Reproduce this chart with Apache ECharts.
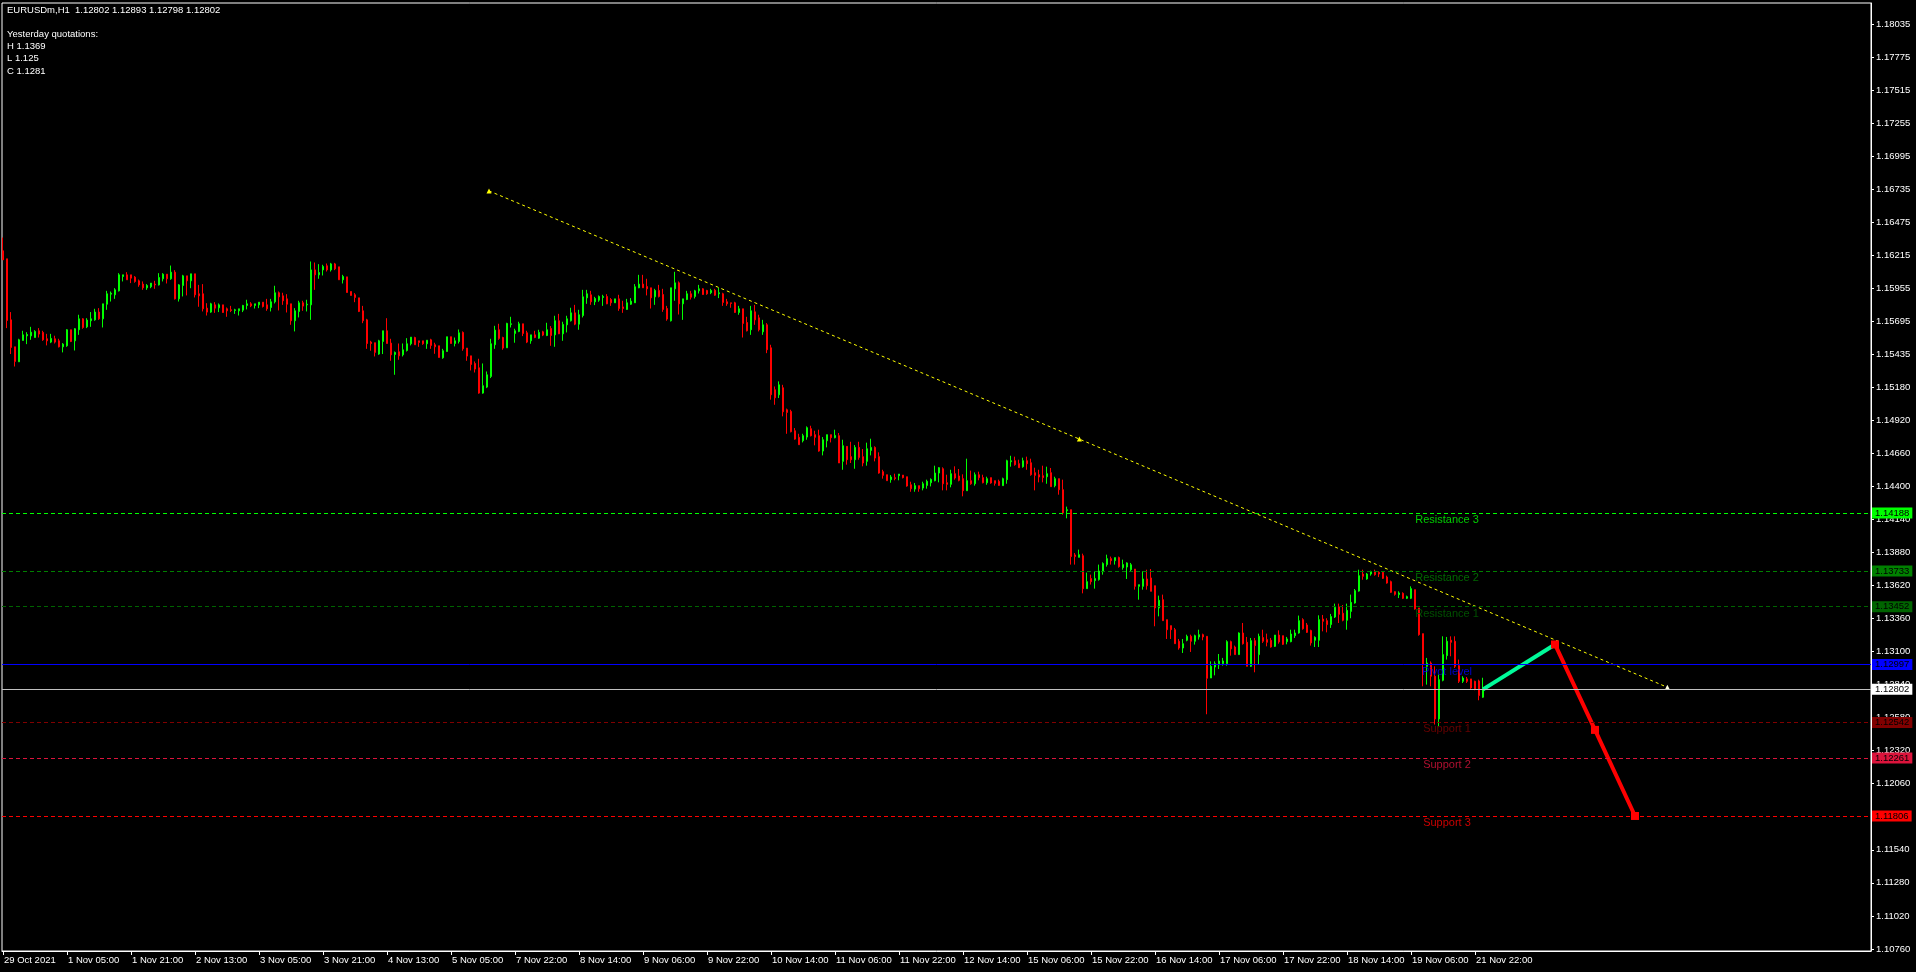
<!DOCTYPE html>
<html><head><meta charset="utf-8">
<script src="https://cdn.jsdelivr.net/npm/echarts@6/dist/echarts.min.js"></script>
<style>html,body{margin:0;padding:0;background:#000;overflow:hidden}#c{width:1916px;height:972px}</style>
</head><body><div id="c"></div>
<script>
// ---------- DATA ----------
const headerLines = ['EURUSDm,H1  1.12802 1.12893 1.12798 1.12802', '', 'Yesterday quotations:', 'H 1.1369', 'L 1.125', 'C 1.1281'];
const timeLabels = ['29 Oct 2021','1 Nov 05:00','1 Nov 21:00','2 Nov 13:00','3 Nov 05:00','3 Nov 21:00','4 Nov 13:00','5 Nov 05:00','7 Nov 22:00','8 Nov 14:00','9 Nov 06:00','9 Nov 22:00','10 Nov 14:00','11 Nov 06:00','11 Nov 22:00','12 Nov 14:00','15 Nov 06:00','15 Nov 22:00','16 Nov 14:00','17 Nov 06:00','17 Nov 22:00','18 Nov 14:00','19 Nov 06:00','21 Nov 22:00'];
const barsPerLabel = 16;
const priceTicks = [1.18035,1.17775,1.17515,1.17255,1.16995,1.16735,1.16475,1.16215,1.15955,1.15695,1.15435,1.15180,1.14920,1.14660,1.14400,1.14140,1.13880,1.13620,1.13360,1.13100,1.12840,1.12580,1.12320,1.12060,1.11800,1.11540,1.11280,1.11020,1.10760];
const levelNames = ['Resistance 3','Resistance 2','Resistance 1','Pivot level','Support 1','Support 2','Support 3'];
const levelValues = [1.14188,1.13733,1.13452,1.12997,1.12542,1.12261,1.11806];
const currentPrice = 1.12802;
const trendIdx = [121.5, 269.1, 416.1];
const trendPrice = [1.16722, 1.14770, 1.12818];
const upIdx = [370, 388];
const upPrice = [1.12802, 1.13155];
const downIdx = [388, 398, 408];
const downPrice = [1.13155, 1.12483, 1.11806];
// hourly bars: [open, close, low, high]
const bars = [
[1.16251,1.16180,1.16180,1.16355],[1.16188,1.15703,1.15643,1.16188],[1.15708,1.15491,1.15439,1.15769],[1.15496,1.15381,1.15341,1.15496],
[1.15378,1.15551,1.15378,1.15559],[1.15546,1.15590,1.15546,1.15622],[1.15582,1.15593,1.15517,1.15611],[1.15582,1.15611,1.15551,1.15653],
[1.15569,1.15617,1.15569,1.15627],[1.15622,1.15596,1.15569,1.15643],[1.15609,1.15551,1.15543,1.15622],[1.15559,1.15543,1.15507,1.15598],
[1.15533,1.15562,1.15525,1.15598],[1.15559,1.15533,1.15522,1.15583],[1.15543,1.15496,1.15491,1.15559],[1.15496,1.15517,1.15452,1.15525],
[1.15504,1.15630,1.15496,1.15635],[1.15630,1.15538,1.15533,1.15630],[1.15543,1.15638,1.15467,1.15643],[1.15630,1.15716,1.15590,1.15748],
[1.15716,1.15648,1.15638,1.15721],[1.15653,1.15706,1.15643,1.15721],[1.15701,1.15716,1.15653,1.15769],[1.15708,1.15769,1.15701,1.15795],
[1.15769,1.15716,1.15708,1.15800],[1.15716,1.15834,1.15648,1.15834],[1.15831,1.15913,1.15787,1.15936],[1.15910,1.15918,1.15852,1.15931],
[1.15905,1.15944,1.15873,1.15957],[1.15936,1.16062,1.15931,1.16075],[1.16049,1.16062,1.16010,1.16062],[1.16062,1.16023,1.16023,1.16083],
[1.16062,1.16036,1.15997,1.16062],[1.16044,1.16010,1.16000,1.16052],[1.16015,1.15983,1.15968,1.16025],[1.15989,1.15960,1.15944,1.16010],
[1.15960,1.15978,1.15944,1.15989],[1.15968,1.15997,1.15957,1.15997],[1.15989,1.15983,1.15952,1.16015],[1.15983,1.16041,1.15978,1.16075],
[1.16031,1.16067,1.16010,1.16075],[1.16067,1.16031,1.15994,1.16067],[1.16031,1.16083,1.16023,1.16135],[1.16083,1.15873,1.15868,1.16099],
[1.15873,1.15983,1.15852,1.15989],[1.15978,1.16054,1.15892,1.16062],[1.16054,1.16015,1.15900,1.16054],[1.16015,1.16070,1.15957,1.16070],
[1.16070,1.15905,1.15884,1.16070],[1.15913,1.15897,1.15811,1.15983],[1.15913,1.15795,1.15774,1.15989],[1.15800,1.15769,1.15742,1.15839],
[1.15769,1.15834,1.15763,1.15842],[1.15826,1.15800,1.15763,1.15847],[1.15803,1.15826,1.15769,1.15837],[1.15826,1.15766,1.15763,1.15826],
[1.15795,1.15779,1.15732,1.15805],[1.15787,1.15782,1.15769,1.15818],[1.15782,1.15787,1.15755,1.15795],[1.15779,1.15795,1.15742,1.15795],
[1.15784,1.15821,1.15769,1.15826],[1.15821,1.15834,1.15790,1.15866],[1.15834,1.15818,1.15808,1.15847],[1.15821,1.15834,1.15797,1.15834],
[1.15826,1.15847,1.15800,1.15847],[1.15847,1.15813,1.15805,1.15847],[1.15826,1.15795,1.15779,1.15873],[1.15805,1.15850,1.15774,1.15873],
[1.15850,1.15921,1.15837,1.15976],[1.15921,1.15889,1.15782,1.15931],[1.15897,1.15858,1.15826,1.15921],[1.15873,1.15831,1.15766,1.15910],
[1.15834,1.15701,1.15669,1.15834],[1.15701,1.15779,1.15617,1.15800],[1.15774,1.15842,1.15727,1.15858],[1.15842,1.15816,1.15779,1.15858],
[1.15826,1.15831,1.15774,1.15866],[1.15826,1.16101,1.15708,1.16167],[1.16101,1.16062,1.15944,1.16159],[1.16062,1.16080,1.16031,1.16146],
[1.16101,1.16128,1.16057,1.16141],[1.16133,1.16101,1.16088,1.16151],[1.16101,1.16148,1.16088,1.16156],[1.16148,1.16109,1.16099,1.16156],
[1.16125,1.16023,1.16023,1.16125],[1.16023,1.16049,1.15994,1.16062],[1.16046,1.15923,1.15923,1.16046],[1.15931,1.15900,1.15900,1.15931],
[1.15905,1.15884,1.15847,1.15918],[1.15881,1.15774,1.15769,1.15881],[1.15779,1.15701,1.15682,1.15818],[1.15708,1.15522,1.15480,1.15716],
[1.15533,1.15522,1.15465,1.15543],[1.15528,1.15452,1.15420,1.15528],[1.15439,1.15543,1.15433,1.15551],[1.15538,1.15622,1.15439,1.15622],
[1.15622,1.15522,1.15522,1.15721],[1.15525,1.15433,1.15386,1.15559],[1.15436,1.15452,1.15276,1.15459],[1.15457,1.15425,1.15394,1.15522],
[1.15433,1.15472,1.15420,1.15522],[1.15467,1.15520,1.15459,1.15564],[1.15520,1.15572,1.15507,1.15572],[1.15569,1.15512,1.15512,1.15575],
[1.15543,1.15530,1.15496,1.15543],[1.15543,1.15520,1.15512,1.15543],[1.15520,1.15548,1.15480,1.15548],[1.15551,1.15507,1.15480,1.15559],
[1.15512,1.15496,1.15441,1.15528],[1.15504,1.15412,1.15412,1.15504],[1.15410,1.15465,1.15402,1.15480],[1.15459,1.15575,1.15459,1.15575],
[1.15575,1.15522,1.15522,1.15575],[1.15522,1.15543,1.15499,1.15569],[1.15538,1.15606,1.15522,1.15632],[1.15609,1.15480,1.15465,1.15617],
[1.15486,1.15423,1.15386,1.15486],[1.15425,1.15357,1.15310,1.15425],[1.15365,1.15321,1.15294,1.15381],[1.15331,1.15132,1.15127,1.15402],
[1.15132,1.15190,1.15127,1.15365],[1.15179,1.15276,1.15171,1.15302],[1.15263,1.15520,1.15250,1.15559],[1.15512,1.15627,1.15480,1.15661],
[1.15630,1.15562,1.15551,1.15677],[1.15569,1.15486,1.15473,1.15575],[1.15488,1.15680,1.15488,1.15685],[1.15672,1.15677,1.15648,1.15732],
[1.15601,1.15622,1.15528,1.15638],[1.15617,1.15677,1.15611,1.15693],[1.15677,1.15601,1.15580,1.15677],[1.15606,1.15533,1.15525,1.15622],
[1.15543,1.15590,1.15520,1.15590],[1.15590,1.15569,1.15564,1.15622],[1.15564,1.15609,1.15559,1.15630],[1.15614,1.15588,1.15580,1.15622],
[1.15585,1.15630,1.15580,1.15685],[1.15640,1.15585,1.15504,1.15659],[1.15590,1.15701,1.15496,1.15740],[1.15701,1.15598,1.15596,1.15755],
[1.15598,1.15672,1.15543,1.15693],[1.15669,1.15716,1.15609,1.15740],[1.15701,1.15763,1.15695,1.15803],[1.15763,1.15674,1.15666,1.15826],
[1.15674,1.15748,1.15630,1.15787],[1.15742,1.15889,1.15727,1.15944],[1.15881,1.15913,1.15834,1.15944],[1.15905,1.15850,1.15826,1.15936],
[1.15850,1.15876,1.15824,1.15889],[1.15863,1.15892,1.15850,1.15900],[1.15884,1.15892,1.15818,1.15905],[1.15892,1.15834,1.15831,1.15910],
[1.15868,1.15842,1.15818,1.15879],[1.15842,1.15873,1.15842,1.15873],[1.15873,1.15797,1.15779,1.15905],[1.15810,1.15797,1.15763,1.15858],
[1.15790,1.15842,1.15787,1.15873],[1.15831,1.15855,1.15826,1.15879],[1.15842,1.15968,1.15842,1.15989],[1.15960,1.15989,1.15957,1.16062],
[1.15989,1.15960,1.15960,1.16062],[1.15970,1.15952,1.15900,1.16031],[1.15960,1.15881,1.15797,1.15960],[1.15889,1.15939,1.15826,1.15952],
[1.15939,1.15892,1.15884,1.15983],[1.15907,1.15790,1.15771,1.15952],[1.15797,1.15714,1.15701,1.15818],[1.15701,1.15960,1.15695,1.15960],
[1.15952,1.15999,1.15858,1.16086],[1.15999,1.15834,1.15750,1.16010],[1.15834,1.15873,1.15708,1.15873],[1.15868,1.15913,1.15863,1.15936],
[1.15913,1.15886,1.15868,1.15936],[1.15892,1.15936,1.15876,1.15944],[1.15936,1.15952,1.15915,1.15983],[1.15952,1.15907,1.15905,1.15957],
[1.15939,1.15913,1.15905,1.15944],[1.15921,1.15939,1.15910,1.15952],[1.15941,1.15902,1.15897,1.15952],[1.15913,1.15921,1.15879,1.15960],
[1.15913,1.15845,1.15818,1.15921],[1.15850,1.15834,1.15818,1.15873],[1.15842,1.15837,1.15803,1.15842],[1.15842,1.15766,1.15763,1.15850],
[1.15766,1.15795,1.15748,1.15818],[1.15795,1.15680,1.15569,1.15795],[1.15687,1.15622,1.15617,1.15732],[1.15630,1.15779,1.15590,1.15818],
[1.15771,1.15708,1.15669,1.15826],[1.15724,1.15630,1.15617,1.15748],[1.15614,1.15669,1.15590,1.15708],[1.15669,1.15473,1.15446,1.15682],
[1.15488,1.15119,1.15080,1.15512],[1.15158,1.15095,1.15040,1.15184],[1.15119,1.15197,1.15093,1.15224],[1.15174,1.14985,1.14949,1.15197],
[1.15001,1.14980,1.14812,1.15010],[1.14988,1.14828,1.14823,1.15001],[1.14836,1.14770,1.14765,1.14857],[1.14784,1.14726,1.14726,1.14812],
[1.14757,1.14797,1.14744,1.14812],[1.14786,1.14860,1.14765,1.14870],[1.14852,1.14797,1.14791,1.14875],[1.14805,1.14784,1.14721,1.14836],
[1.14797,1.14676,1.14671,1.14844],[1.14676,1.14765,1.14642,1.14786],[1.14757,1.14805,1.14705,1.14805],[1.14805,1.14781,1.14744,1.14805],
[1.14781,1.14799,1.14776,1.14844],[1.14797,1.14582,1.14582,1.14818],[1.14595,1.14718,1.14529,1.14765],[1.14713,1.14608,1.14569,1.14713],
[1.14632,1.14608,1.14582,1.14749],[1.14608,1.14705,1.14537,1.14723],[1.14705,1.14626,1.14608,1.14749],[1.14632,1.14582,1.14556,1.14692],
[1.14595,1.14694,1.14561,1.14742],[1.14681,1.14705,1.14642,1.14773],[1.14705,1.14621,1.14595,1.14713],[1.14632,1.14503,1.14498,1.14666],
[1.14514,1.14485,1.14459,1.14529],[1.14490,1.14443,1.14443,1.14490],[1.14451,1.14472,1.14427,1.14487],[1.14467,1.14459,1.14446,1.14498],
[1.14482,1.14495,1.14446,1.14495],[1.14487,1.14467,1.14461,1.14487],[1.14474,1.14401,1.14396,1.14474],[1.14411,1.14380,1.14356,1.14435],
[1.14377,1.14404,1.14356,1.14425],[1.14404,1.14380,1.14356,1.14404],[1.14385,1.14419,1.14367,1.14435],[1.14406,1.14438,1.14380,1.14451],
[1.14427,1.14453,1.14398,1.14461],[1.14443,1.14503,1.14438,1.14561],[1.14503,1.14545,1.14430,1.14550],[1.14537,1.14419,1.14367,1.14548],
[1.14427,1.14414,1.14367,1.14490],[1.14414,1.14498,1.14391,1.14529],[1.14498,1.14464,1.14451,1.14556],[1.14480,1.14446,1.14438,1.14535],
[1.14459,1.14364,1.14320,1.14493],[1.14364,1.14443,1.14364,1.14616],[1.14443,1.14419,1.14411,1.14522],[1.14419,1.14490,1.14404,1.14508],
[1.14490,1.14467,1.14446,1.14514],[1.14467,1.14427,1.14422,1.14490],[1.14427,1.14459,1.14411,1.14474],[1.14467,1.14425,1.14419,1.14467],
[1.14443,1.14422,1.14404,1.14443],[1.14438,1.14406,1.14404,1.14451],[1.14404,1.14459,1.14404,1.14467],[1.14451,1.14600,1.14419,1.14608],
[1.14592,1.14600,1.14553,1.14639],[1.14600,1.14569,1.14561,1.14632],[1.14577,1.14545,1.14545,1.14608],[1.14553,1.14600,1.14545,1.14624],
[1.14600,1.14577,1.14529,1.14632],[1.14584,1.14490,1.14482,1.14616],[1.14506,1.14485,1.14367,1.14545],[1.14490,1.14472,1.14430,1.14529],
[1.14482,1.14467,1.14430,1.14561],[1.14474,1.14498,1.14419,1.14553],[1.14506,1.14396,1.14396,1.14543],[1.14404,1.14459,1.14391,1.14474],
[1.14459,1.14372,1.14333,1.14459],[1.14372,1.14189,1.14176,1.14451],[1.14207,1.14215,1.14147,1.14239],[1.14215,1.13846,1.13783,1.14215],
[1.13859,1.13846,1.13783,1.13874],[1.13840,1.13861,1.13840,1.13901],[1.13853,1.13594,1.13557,1.13869],[1.13594,1.13649,1.13594,1.13720],
[1.13673,1.13649,1.13626,1.13704],[1.13657,1.13673,1.13594,1.13733],[1.13665,1.13733,1.13657,1.13783],[1.13728,1.13791,1.13704,1.13801],
[1.13783,1.13830,1.13767,1.13861],[1.13830,1.13814,1.13783,1.13846],[1.13814,1.13838,1.13783,1.13838],[1.13838,1.13767,1.13759,1.13846],
[1.13759,1.13783,1.13743,1.13822],[1.13764,1.13796,1.13670,1.13801],[1.13743,1.13782,1.13730,1.13796],[1.13748,1.13612,1.13586,1.13748],
[1.13612,1.13625,1.13507,1.13625],[1.13612,1.13670,1.13586,1.13730],[1.13670,1.13617,1.13586,1.13743],[1.13678,1.13573,1.13573,1.13748],
[1.13617,1.13442,1.13298,1.13617],[1.13442,1.13502,1.13376,1.13539],[1.13507,1.13342,1.13342,1.13547],[1.13350,1.13271,1.13198,1.13350],
[1.13303,1.13271,1.13198,1.13303],[1.13271,1.13161,1.13161,1.13285],[1.13180,1.13127,1.13114,1.13198],[1.13127,1.13161,1.13088,1.13198],
[1.13188,1.13219,1.13180,1.13232],[1.13219,1.13180,1.13096,1.13232],[1.13180,1.13224,1.13154,1.13232],[1.13214,1.13232,1.13193,1.13271],
[1.13232,1.13214,1.13188,1.13240],[1.13219,1.12889,1.12606,1.13219],[1.12891,1.12983,1.12891,1.13022],[1.12978,1.13004,1.12912,1.13022],
[1.12994,1.13025,1.12962,1.13080],[1.13004,1.13025,1.12988,1.13049],[1.13004,1.13177,1.12988,1.13188],[1.13177,1.13120,1.13067,1.13185],
[1.13135,1.13075,1.13075,1.13146],[1.13075,1.13245,1.13075,1.13250],[1.13245,1.13161,1.13154,1.13324],[1.13172,1.12983,1.12983,1.13214],
[1.12983,1.13185,1.12978,1.13206],[1.13185,1.13146,1.12936,1.13206],[1.13075,1.13219,1.13001,1.13240],[1.13209,1.13180,1.13167,1.13271],
[1.13193,1.13172,1.13140,1.13240],[1.13188,1.13135,1.13130,1.13206],[1.13140,1.13229,1.13135,1.13229],[1.13229,1.13175,1.13161,1.13266],
[1.13224,1.13156,1.13151,1.13224],[1.13177,1.13198,1.13156,1.13214],[1.13177,1.13237,1.13172,1.13271],[1.13224,1.13245,1.13206,1.13271],
[1.13245,1.13342,1.13240,1.13382],[1.13350,1.13279,1.13271,1.13361],[1.13308,1.13250,1.13245,1.13324],[1.13264,1.13167,1.13146,1.13271],
[1.13188,1.13211,1.13135,1.13219],[1.13188,1.13350,1.13135,1.13384],[1.13355,1.13337,1.13258,1.13387],[1.13342,1.13311,1.13250,1.13361],
[1.13311,1.13374,1.13285,1.13395],[1.13371,1.13447,1.13363,1.13476],[1.13450,1.13392,1.13324,1.13476],[1.13400,1.13345,1.13337,1.13465],
[1.13345,1.13423,1.13271,1.13476],[1.13415,1.13486,1.13361,1.13547],[1.13481,1.13578,1.13476,1.13591],[1.13575,1.13696,1.13570,1.13743],
[1.13709,1.13691,1.13664,1.13743],[1.13670,1.13709,1.13664,1.13717],[1.13709,1.13727,1.13696,1.13735],[1.13730,1.13704,1.13696,1.13743],
[1.13722,1.13709,1.13685,1.13730],[1.13722,1.13675,1.13670,1.13730],[1.13685,1.13638,1.13633,1.13696],[1.13649,1.13565,1.13560,1.13657],
[1.13570,1.13549,1.13539,1.13573],[1.13547,1.13560,1.13520,1.13573],[1.13557,1.13518,1.13512,1.13565],[1.13518,1.13531,1.13512,1.13539],
[1.13518,1.13594,1.13512,1.13612],[1.13586,1.13434,1.13429,1.13586],[1.13442,1.13232,1.13224,1.13442],[1.13240,1.12996,1.12826,1.13240],
[1.12983,1.13009,1.12839,1.13049],[1.13009,1.12905,1.12826,1.13022],[1.12905,1.12569,1.12525,1.12983],[1.12569,1.12878,1.12512,1.12918],
[1.12873,1.13075,1.12865,1.13219],[1.13067,1.13180,1.13036,1.13214],[1.13188,1.13172,1.13062,1.13219],[1.13180,1.12983,1.12970,1.13219],
[1.12988,1.12865,1.12852,1.13036],[1.12865,1.12891,1.12852,1.12905],[1.12884,1.12865,1.12852,1.12899],[1.12884,1.12813,1.12805,1.12884],
[1.12865,1.12805,1.12795,1.12870],[1.12868,1.12753,1.12716,1.12878],[1.12740,1.12802,1.12735,1.12893]
];

// ---------- STYLE ----------
const FONT = '"Liberation Sans", Arial, sans-serif';
const levelStyles = [
  {color:'#00FF00', dash:[4,3]}, {color:'#008000', dash:[4,3]}, {color:'#006400', dash:[4,3]},
  {color:'#0000FF', dash:'solid'},
  {color:'#800000', dash:[4,3]}, {color:'#DC143C', dash:[4,3]}, {color:'#FF0000', dash:[4,3]}
];
const levelLabelIdx = 361;

const chart = echarts.init(document.getElementById('c'), null, {renderer:'canvas'});
const tickIdx = timeLabels.map((_, k) => k * barsPerLabel);
const candleData = bars.map((b, i) => [i, b[0], b[1], b[2], b[3]]);

const markData = levelValues.map((v, k) => ({
  yAxis: v,
  lineStyle: {color: levelStyles[k].color, type: levelStyles[k].dash, width: 1},
  label: {backgroundColor: levelStyles[k].color}
}));
markData.push({yAxis: currentPrice, lineStyle: {color:'#C0C0C0', type:'solid', width:1}, label: {backgroundColor:'#FFFFFF'}});

const option = {
  backgroundColor: '#000',
  animation: false,
  grid: {left: 2, right: 45, top: 3, bottom: 21, show: true, borderColor: '#FFFFFF', borderWidth: 1, backgroundColor: '#000'},
  xAxis: {
    type: 'value', min: -0.25, max: 467,
    splitLine: {show: false},
    axisLine: {show: true, onZero: false, lineStyle: {color: '#FFFFFF', width: 1}},
    axisTick: {show: true, customValues: tickIdx, length: 4, lineStyle: {color: '#FFFFFF'}},
    axisLabel: {customValues: tickIdx, formatter: v => timeLabels[Math.round(v / barsPerLabel)], align: 'left',
      margin: 4, padding: [0,0,0,1], color: '#FFFFFF', fontSize: 9.5, fontFamily: FONT}
  },
  yAxis: {
    type: 'value', position: 'right', min: 1.10744, max: 1.18200, scale: true,
    splitLine: {show: false},
    axisLine: {show: true, onZero: false, lineStyle: {color: '#FFFFFF', width: 1}},
    axisTick: {show: true, customValues: priceTicks, length: 3, lineStyle: {color: '#FFFFFF'}},
    axisLabel: {customValues: priceTicks, formatter: v => v.toFixed(5), color: '#FFFFFF', fontSize: 9.5, fontFamily: FONT, margin: 5}
  },
  graphic: headerLines.map((t, k) => ({
    type: 'text', x: 7, y: 10 + 12.2 * k, z: 100,
    style: {text: t, fill: '#FFFFFF', fontSize: 9.5, fontFamily: FONT, verticalAlign: 'middle', align: 'left'}
  })),
  series: [
    {
      type: 'candlestick', name: 'EURUSDm', data: candleData, barWidth: 2, clip: true,
      itemStyle: {color: '#00FF00', color0: '#FF0000', borderColor: '#00FF00', borderColor0: '#FF0000', borderWidth: 1},
      silent: true
    },
    {
      type: 'scatter', name: 'levels', clip: false, silent: true, symbolSize: 1,
      itemStyle: {color: 'rgba(0,0,0,0)'},
      data: levelNames.map((n, k) => ({value: [levelLabelIdx, levelValues[k]], name: n, label: {color: levelStyles[k].color}})),
      label: {show: true, formatter: p => p.name, position: 'inside', offset: [0, 7], fontSize: 11, fontFamily: FONT},
      markLine: {
        silent: true, symbol: ['none', 'none'], animation: false, precision: 5,
        label: {show: true, position: 'end', distance: 1, formatter: p => Number(p.value).toFixed(5),
          color: '#000000', fontSize: 9.5, fontFamily: FONT, padding: [1, 3, 0, 3], lineHeight: 10},
        data: markData
      }
    },
    {
      type: 'line', name: 'trend', silent: true,
      data: trendIdx.map((x, k) => ({value: [x, trendPrice[k]], itemStyle: {color: k === 2 ? '#FFFFE0' : '#FFFF00'}})),
      lineStyle: {color: '#FFFF00', width: 1, type: [3, 3]},
      symbol: 'triangle', symbolSize: 5, showSymbol: true
    },
    {
      type: 'line', name: 'forecast up', silent: true,
      data: upIdx.map((x, k) => [x, upPrice[k]]),
      lineStyle: {color: '#00FA9A', width: 4}, symbol: 'none'
    },
    {
      type: 'line', name: 'forecast down', silent: true,
      data: downIdx.map((x, k) => [x, downPrice[k]]),
      lineStyle: {color: '#FF0000', width: 4}, symbol: 'rect', symbolSize: 8, showSymbol: true,
      itemStyle: {color: '#FF0000'}
    }
  ]
};
chart.setOption(option);
</script>
</body></html>
